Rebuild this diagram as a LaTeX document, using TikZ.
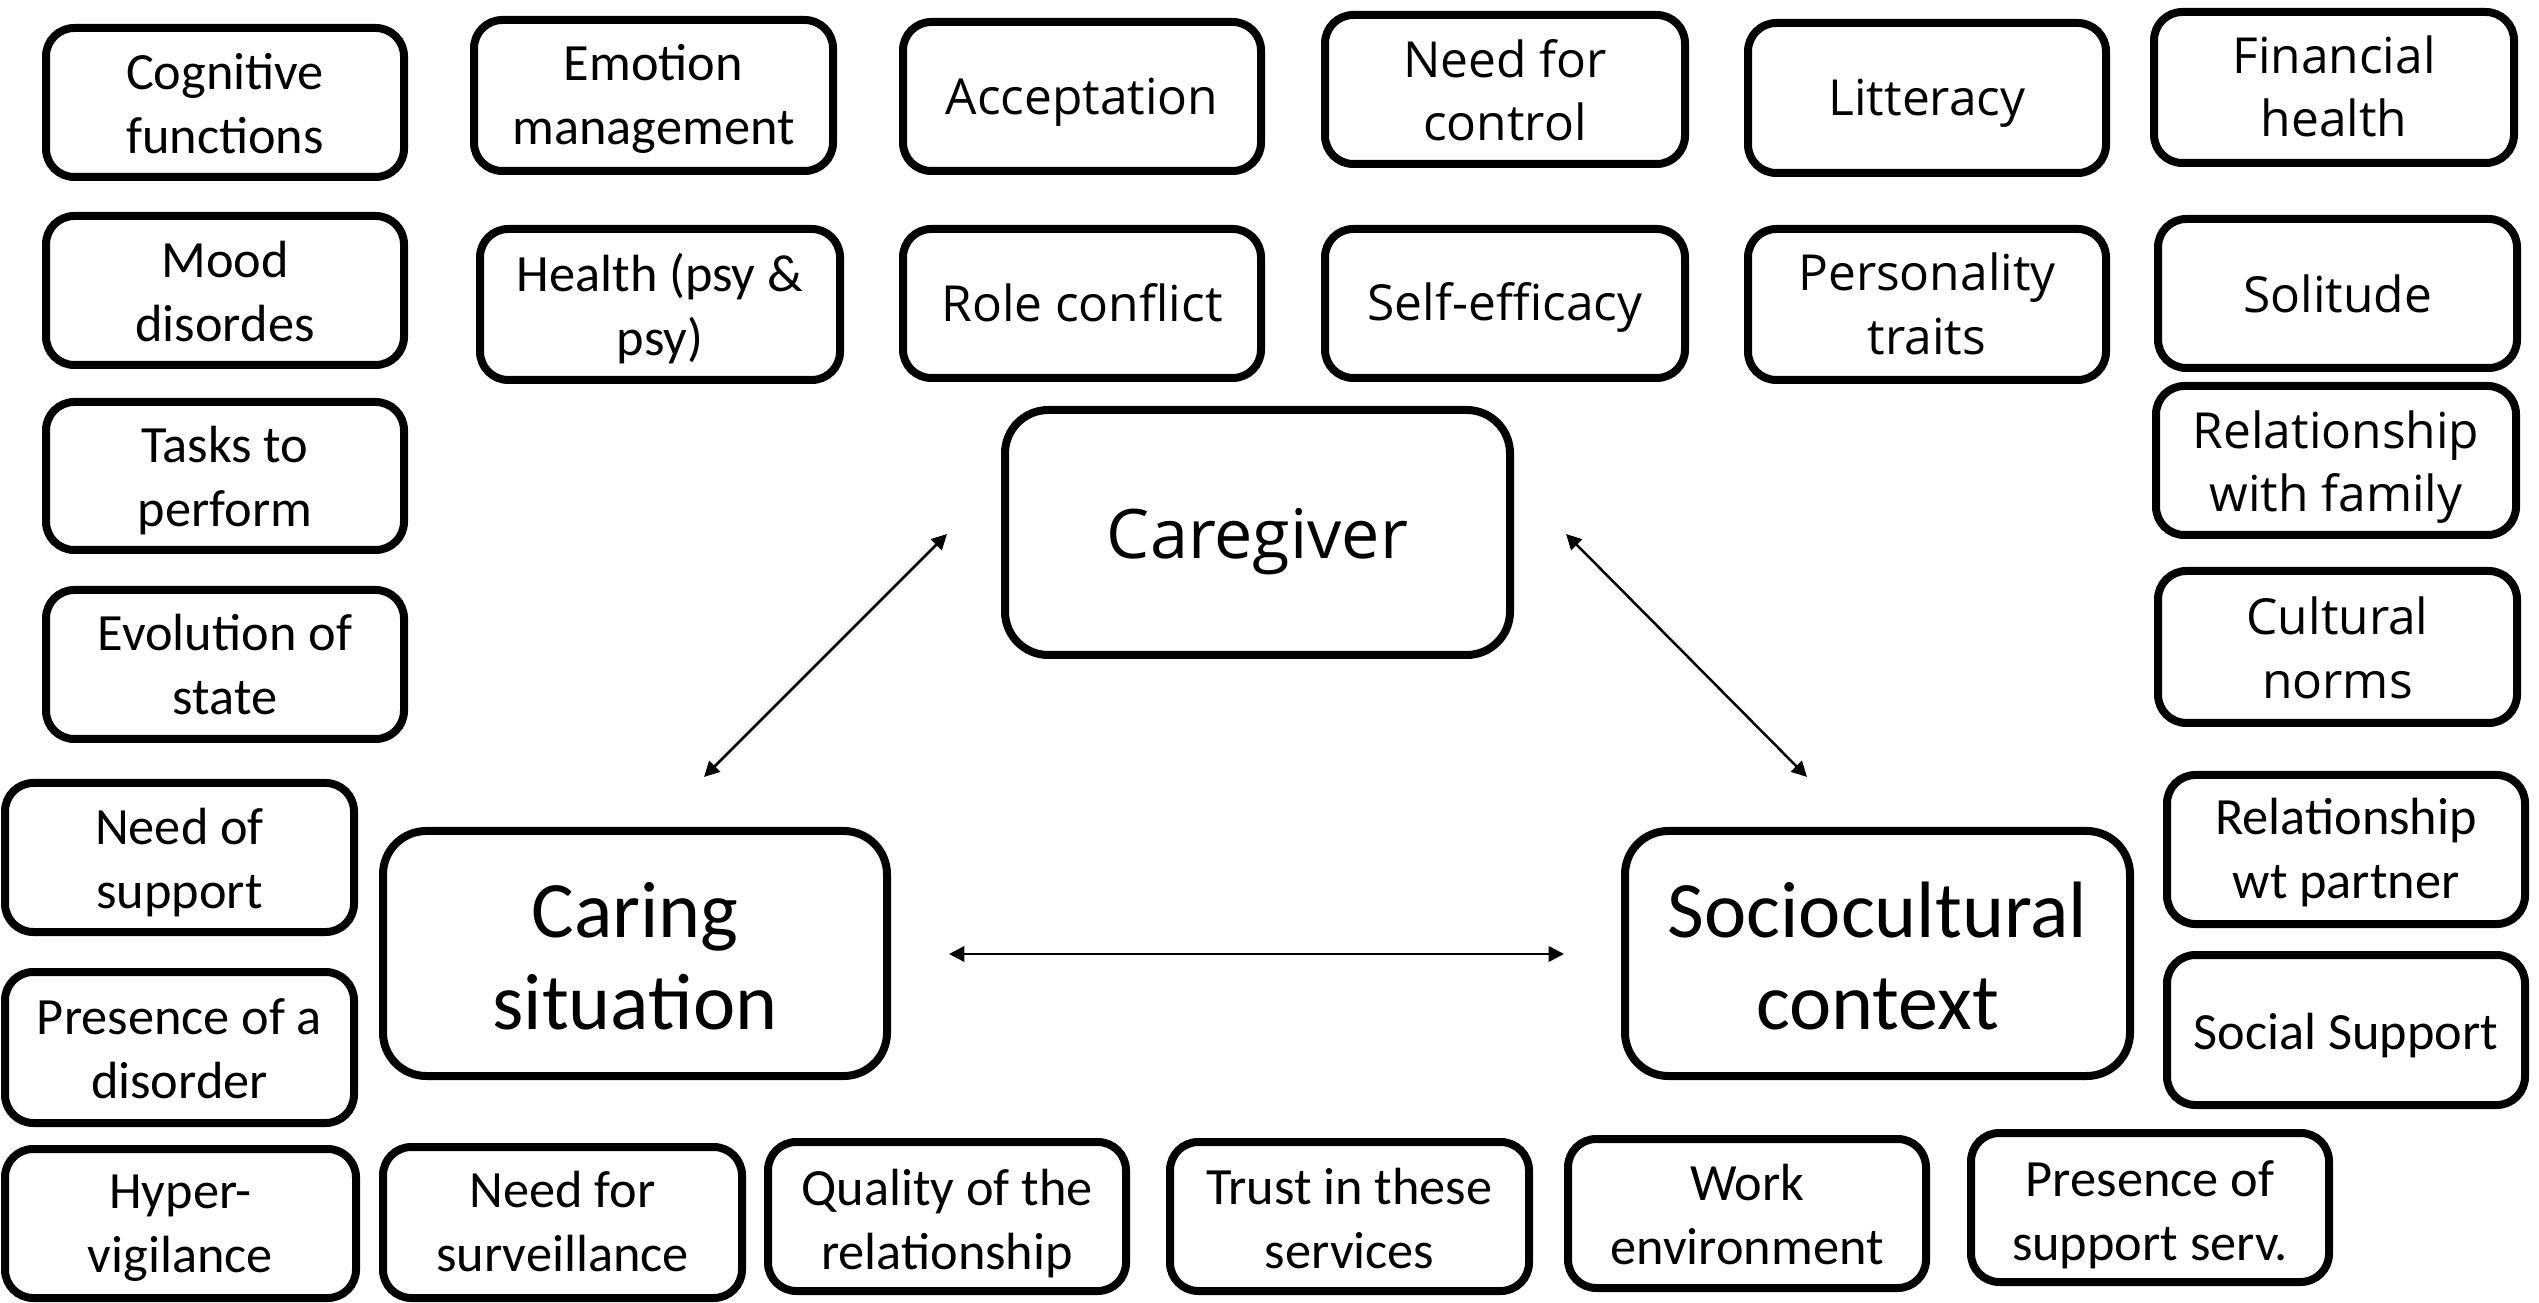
\documentclass[tikz,border=0pt]{standalone}
\usepackage{fontspec}
\usetikzlibrary{arrows.meta}
\newfontfamily\calfont{Carlito}
\newfontfamily\aptfont{Open Sans}
\tikzset{
  smallbox/.style={draw=black, line width=2.4pt, rounded corners=8.5pt, fill=white,
    inner sep=0pt, align=center},
  mainbox/.style={draw=black, line width=2.4pt, rounded corners=13pt, fill=white,
    inner sep=0pt, align=center},
  calsmall/.style={font=\calfont\fontsize{15.7pt}{19.2pt}\selectfont},
  aptsmall/.style={font=\aptfont\fontsize{14.9pt}{19pt}\selectfont},
  calbig/.style={font=\calfont\fontsize{24pt}{27.6pt}\selectfont},
  aptbig/.style={font=\aptfont\fontsize{20.5pt}{24pt}\selectfont},
  link/.style={line width=0.75pt, {Triangle[length=4.6pt,width=4.6pt]}-{Triangle[length=4.6pt,width=4.6pt]}}
}
% \bx[text lowering]{style}{name}{x1}{y1}{x2}{y2}{text}
\newcommand{\bx}[8][1pt]{%
  \node[#2, minimum width={(#6-#4)*0.3pt-2.4pt}, minimum height={(#7-#5)*0.3pt-2.4pt}]
    (#3) at ({(#4+#6)/2},{(#5+#7)/2})
    {\raisebox{-#1}[\height][\depth]{\begin{tabular}{@{}c@{}}#8\end{tabular}}};}
\begin{document}
\begin{tikzpicture}[x=0.3pt,y=-0.3pt]
\fill[white] (0,0) rectangle (2539,1303);
\useasboundingbox (0,0) rectangle (2539,1303);
% top row
\bx[2pt]{smallbox,calsmall}{cog}{42}{24}{408}{181}{Cognitive\\functions}
\bx[1.3pt]{smallbox,calsmall}{emo}{470}{16}{837}{175}{Emotion\\management}
\bx[1.6pt]{smallbox,aptsmall}{acc}{899}{18}{1265}{175}{Acceptation}
\bx[2pt]{smallbox,aptsmall}{ctl}{1321}{11}{1689}{168}{Need for\\control}
\bx[1.6pt]{smallbox,aptsmall}{lit}{1744}{19}{2110}{177}{Litteracy}
\bx[1.5pt]{smallbox,aptsmall}{fin}{2150}{8}{2518}{167}{Financial\\health}
% second row
\bx[2pt]{smallbox,calsmall}{mood}{42}{212}{408}{369}{Mood\\disordes}
\bx[1.8pt]{smallbox,calsmall}{hea}{476}{225}{844}{384}{Health (psy \&\\psy)}
\bx[1.5pt]{smallbox,aptsmall}{role}{899}{225}{1265}{382}{Role conflict}
\bx[1.3pt]{smallbox,aptsmall}{self}{1321}{225}{1689}{382}{Self-efficacy}
\bx[1.6pt]{smallbox,aptsmall}{pers}{1744}{225}{2110}{384}{Personality\\traits}
\bx[2pt]{smallbox,aptsmall}{sol}{2154}{215}{2521}{372}{Solitude}
% left column
\bx[1.8pt]{smallbox,calsmall}{task}{42}{398}{408}{554}{Tasks to\\perform}
\bx[1.6pt]{smallbox,calsmall}{evo}{42}{586}{408}{743}{Evolution of\\state}
\bx[1.8pt]{smallbox,calsmall}{nsup}{1}{779}{358}{936}{Need of\\support}
\bx[1.8pt]{smallbox,calsmall}{pdis}{1}{968}{358}{1127}{Presence of a\\disorder}
\bx[1.2pt]{smallbox,calsmall}{hyp}{1}{1145}{360}{1302}{Hyper-\\vigilance}
% bottom row
\bx[1.2pt]{smallbox,calsmall}{surv}{379}{1143}{746}{1302}{Need for\\surveillance}
\bx[2.5pt]{smallbox,calsmall}{qual}{764}{1138}{1130}{1295}{Quality of the\\relationship}
\bx[2.2pt]{smallbox,calsmall}{trust}{1166}{1138}{1533}{1295}{Trust in these\\services}
\bx[1.8pt]{smallbox,calsmall}{work}{1564}{1135}{1930}{1292}{Work\\environment}
\bx[2.5pt]{smallbox,calsmall}{pss}{1967}{1129}{2333}{1286}{Presence of\\support serv.}
% right column
\bx[2pt]{smallbox,aptsmall}{fam}{2152}{382}{2520}{539}{Relationship\\with family}
\bx[2.1pt]{smallbox,aptsmall}{cult}{2154}{567}{2521}{727}{Cultural\\norms}
\bx[1.3pt]{smallbox,calsmall}{part}{2163}{771}{2529}{928}{Relationship\\wt partner}
\bx[2pt]{smallbox,calsmall}{soc}{2163}{951}{2529}{1109}{Social Support}
% main boxes
\bx[3.1pt]{mainbox,aptbig}{cg}{1001}{406}{1514}{659}{Caregiver}
\bx[3.4pt]{mainbox,calbig}{cs}{379}{827}{891}{1080}{Caring\\situation}
\bx[3.4pt]{mainbox,calbig}{sc}{1621}{827}{2134}{1080}{Sociocultural\\context}
% arrows
\coordinate (a1s) at (704,777);
\coordinate (a1e) at (947,534);
\coordinate (a2s) at (1566,534);
\coordinate (a2e) at (1807,777);
\coordinate (a3s) at (949,954);
\coordinate (a3e) at (1564,954);
\draw[link] (a1s) -- (a1e);
\draw[link] (a2s) -- (a2e);
\draw[link] (a3s) -- (a3e);
\end{tikzpicture}
\end{document}
